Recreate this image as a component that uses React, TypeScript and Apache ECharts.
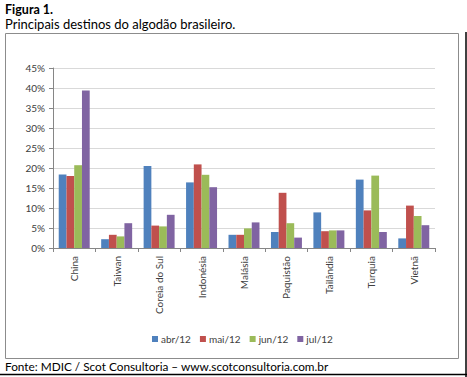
import React, { useEffect, useRef } from "react";
import * as echarts from "echarts";

const categories = ["China", "Taiwan", "Coreia do Sul", "Indonésia", "Malásia", "Paquistão", "Tailândia", "Turquia", "Vietnã"];
const seriesNames = ["abr/12", "mai/12", "jun/12", "jul/12"];
const abr12 = [18.4, 2.2, 20.5, 16.4, 3.3, 4.0, 8.9, 17.1, 2.4];
const mai12 = [18.0, 3.3, 5.6, 20.9, 3.3, 13.8, 4.2, 9.4, 10.6];
const jun12 = [20.7, 2.9, 5.4, 18.3, 4.9, 6.2, 4.4, 18.1, 8.0];
const jul12 = [39.4, 6.2, 8.3, 15.2, 6.4, 2.6, 4.4, 4.0, 5.7];
const colors = ["#4F81BD", "#C0504D", "#9BBB59", "#8064A2"];

export default function App() {
  const ref = useRef<HTMLDivElement>(null);
  useEffect(() => {
    const chart = echarts.init(ref.current!, null, { renderer: "svg" });
    const data = [abr12, mai12, jun12, jul12];
    const font = "Lato, 'Open Sans', sans-serif";
    chart.setOption({
      animation: false,
      backgroundColor: "#ffffff",
      textStyle: { fontFamily: font },
      grid: { left: 53, top: 68, width: 382, height: 180 },
      legend: {
        left: 147,
        top: 329,
        itemWidth: 6,
        itemHeight: 6,
        itemGap: 9,
        icon: "rect",
        textStyle: { fontSize: 10, color: "#404040", fontFamily: font, padding: [0, 0, 0, -2] },
        data: seriesNames,
      },
      xAxis: {
        type: "category",
        data: categories,
        axisLine: { lineStyle: { color: "#868686" } },
        axisTick: { show: true, length: 4, lineStyle: { color: "#868686" } },
        axisLabel: { rotate: 90, fontSize: 10, color: "#404040", margin: 8, interval: 0 },
      },
      yAxis: {
        type: "value",
        min: 0,
        max: 45,
        interval: 5,
        axisLine: { show: true, lineStyle: { color: "#868686" } },
        axisTick: { show: true, length: 4, lineStyle: { color: "#868686" } },
        axisLabel: { formatter: "{value}%", fontSize: 10, color: "#404040", margin: 8 },
        splitLine: { lineStyle: { color: "#D9D9D9" } },
      },
      series: seriesNames.map((name, i) => ({
        name,
        type: "bar",
        data: data[i],
        barGap: "0%",
        barCategoryGap: "27%",
        itemStyle: { color: colors[i] },
      })),
      graphic: [
        { type: "text", left: 5, top: 3, style: { text: "Figura 1.", font: `bold 12.5px ${font}`, fill: "#000" } },
        { type: "text", left: 5, top: 17, style: { text: "Principais destinos do algodão brasileiro.", font: `13px ${font}`, fill: "#000" } },
        { type: "rect", shape: { x: 5.5, y: 33.5, width: 453, height: 325 }, style: { fill: "none", stroke: "#8c8c8c", lineWidth: 1 } },
        { type: "text", left: 5, top: 360, style: { text: "Fonte: MDIC / Scot Consultoria – www.scotconsultoria.com.br", font: `11.8px ${font}`, fill: "#000" } },
        { type: "line", shape: { x1: 0, y1: 374.5, x2: 467, y2: 374.5 }, style: { stroke: "#000", lineWidth: 1.5 } },
        { type: "line", shape: { x1: 466, y1: 32, x2: 466, y2: 377 }, style: { stroke: "#000", lineWidth: 1.5 } },
      ],
    });
    return () => chart.dispose();
  }, []);
  return <div ref={ref} style={{ position: "absolute", left: 0, top: 0, width: 467, height: 377 }} />;
}
